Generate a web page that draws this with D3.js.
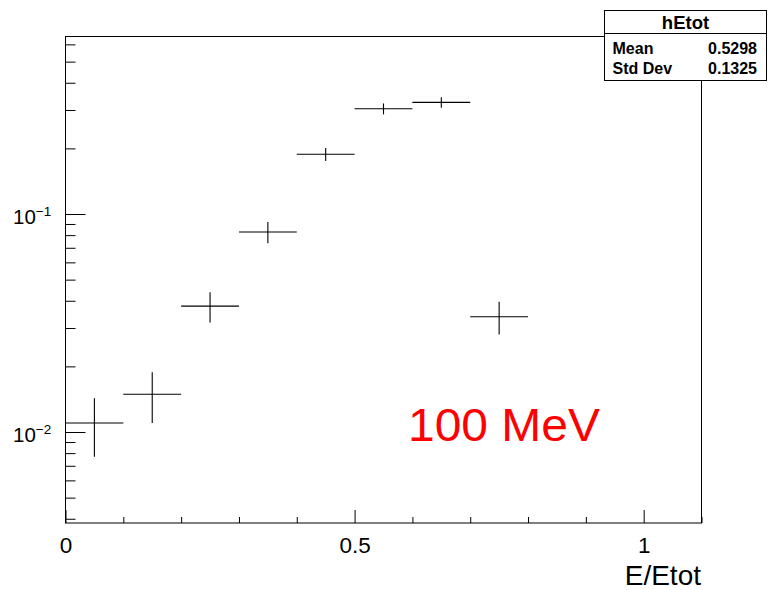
<!DOCTYPE html>
<html>
<head>
<meta charset="utf-8">
<script src="https://cdn.jsdelivr.net/npm/d3@7"></script>
<style>
  html, body { margin: 0; padding: 0; background: #fff; }
  svg { display: block; }
  text { font-family: "Liberation Sans", Arial, Helvetica, sans-serif; }
</style>
</head>
<body>
<svg id="chart" width="769" height="590"></svg>
<script>
// Histogram hEtot: fraction of energy per E/Etot bin
const binCenters = [0.05, 0.15, 0.25, 0.35, 0.45, 0.55, 0.65, 0.75];
const binValues  = [0.0110, 0.0149, 0.0378, 0.0827, 0.188, 0.304, 0.325, 0.0338];
const binErrors  = [0.0033, 0.0039, 0.0060, 0.0092, 0.013, 0.0175, 0.018, 0.0058];
const binWidth = 0.1;

const xMajorTicks = [0, 0.5, 1];
const xMajorLabels = ["0", "0.5", "1"];
const xMinorTicks = [0.1, 0.2, 0.3, 0.4, 0.6, 0.7, 0.8, 0.9, 1.1];
const yMajorTicks = [0.01, 0.1];
const yMajorExponents = ["\u22122", "\u22121"];
const yMinorTicks = [0.004, 0.005, 0.006, 0.007, 0.008, 0.009,
                     0.02, 0.03, 0.04, 0.05, 0.06, 0.07, 0.08, 0.09,
                     0.2, 0.3, 0.4, 0.5, 0.6];

const statsTitle = "hEtot";
const statsNames = ["Mean", "Std Dev"];
const statsValues = ["0.5298", "0.1325"];
const xTitle = "E/Etot";
const annotation = "100 MeV";

const frame = { left: 65.5, right: 701.5, top: 36.5, bottom: 523 };

const svg = d3.select("#chart");

const x = d3.scaleLinear().domain([0, 1.1]).range([frame.left, frame.right]);
const y = d3.scaleLog().domain([0.003825, 0.652]).range([frame.bottom, frame.top]);

// frame
svg.append("rect")
  .attr("x", frame.left).attr("y", frame.top)
  .attr("width", frame.right - frame.left).attr("height", frame.bottom - frame.top)
  .attr("fill", "none").attr("stroke", "#000").attr("stroke-width", 1);

// x axis ticks (drawn inward)
const xAxisG = svg.append("g").attr("transform", `translate(0,${frame.bottom})`);
xAxisG.append("g")
  .call(d3.axisBottom(x).tickValues(xMajorTicks).tickSize(-13).tickFormat((d, i) => xMajorLabels[i]).tickPadding(14))
  .call(g => g.select(".domain").remove())
  .call(g => g.selectAll("text").attr("font-size", 22.5).attr("fill", "#000")
        .attr("font-family", "'Liberation Sans', Arial, sans-serif"));
xAxisG.append("g")
  .call(d3.axisBottom(x).tickValues(xMinorTicks).tickSize(-6).tickFormat(""))
  .call(g => g.select(".domain").remove());
xAxisG.selectAll("line").attr("stroke", "#000");

// y axis ticks (drawn inward)
const yAxisG = svg.append("g").attr("transform", `translate(${frame.left},0)`);
yAxisG.append("g")
  .call(d3.axisLeft(y).tickValues(yMajorTicks).tickSize(-20).tickFormat(""))
  .call(g => g.select(".domain").remove());
yAxisG.append("g")
  .call(d3.axisLeft(y).tickValues(yMinorTicks).tickSize(-10).tickFormat(""))
  .call(g => g.select(".domain").remove());
yAxisG.selectAll("line").attr("stroke", "#000");

// y labels as 10 with superscript exponent
yMajorTicks.forEach((v, i) => {
  const t = svg.append("text")
    .attr("x", 13).attr("y", y(v) + 10)
    .attr("font-size", 20.5).attr("fill", "#000");
  t.append("tspan").text("10");
  t.append("tspan").attr("font-size", 13.5).attr("dy", -8).text(yMajorExponents[i]);
});

// x axis title
svg.append("text")
  .attr("x", 701).attr("y", 585)
  .attr("text-anchor", "end")
  .attr("font-size", 28).attr("fill", "#000")
  .text(xTitle);

// data points with error bars
const pts = svg.append("g").attr("stroke", "#000").attr("stroke-width", 1.1);
binCenters.forEach((c, i) => {
  const v = binValues[i], e = binErrors[i];
  pts.append("line")
    .attr("x1", x(c - binWidth / 2)).attr("x2", x(c + binWidth / 2))
    .attr("y1", y(v)).attr("y2", y(v));
  pts.append("line")
    .attr("x1", x(c)).attr("x2", x(c))
    .attr("y1", y(v + e)).attr("y2", y(v - e));
});

// annotation
svg.append("text")
  .attr("x", 408).attr("y", 441)
  .attr("font-family", "'Comic Sans MS', 'Comic Neue', 'DejaVu Sans', sans-serif")
  .attr("font-size", 47).attr("fill", "#ff0000")
  .attr("textLength", 192).attr("lengthAdjust", "spacingAndGlyphs")
  .text(annotation);

// statistics box
const box = { left: 604.5, right: 766.5, top: 10.5, bottom: 80.5, sep: 33.5 };
svg.append("rect")
  .attr("x", box.left).attr("y", box.top)
  .attr("width", box.right - box.left).attr("height", box.bottom - box.top)
  .attr("fill", "#fff").attr("stroke", "#000").attr("stroke-width", 1);
svg.append("line")
  .attr("x1", box.left).attr("x2", box.right)
  .attr("y1", box.sep).attr("y2", box.sep)
  .attr("stroke", "#000").attr("stroke-width", 1);
svg.append("text")
  .attr("x", (box.left + box.right) / 2).attr("y", 28.5)
  .attr("text-anchor", "middle").attr("font-weight", "bold")
  .attr("font-size", 18.5).attr("fill", "#000")
  .text(statsTitle);
statsNames.forEach((n, i) => {
  const yy = 53.5 + i * 20.7;
  svg.append("text")
    .attr("x", 612.5).attr("y", yy)
    .attr("font-weight", "bold").attr("font-size", 16).attr("fill", "#000")
    .text(n);
  svg.append("text")
    .attr("x", 757).attr("y", yy)
    .attr("text-anchor", "end")
    .attr("font-weight", "bold").attr("font-size", 16).attr("fill", "#000")
    .text(statsValues[i]);
});
</script>
</body>
</html>
